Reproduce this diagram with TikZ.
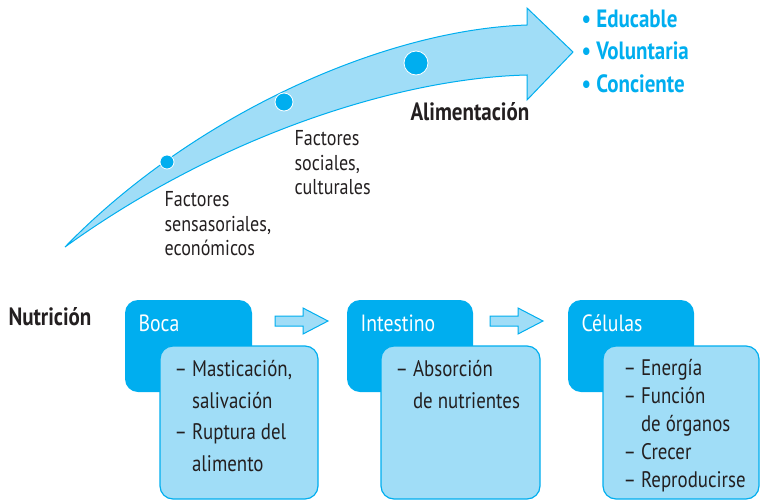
\documentclass[tikz,border=0pt]{standalone}
\usepackage{fontspec}
\setmainfont[FakeStretch=0.84]{PT Sans}
\definecolor{cy}{RGB}{0,174,239}
\definecolor{lb}{RGB}{160,221,247}
\definecolor{tx}{RGB}{35,31,32}
\begin{document}
\begin{tikzpicture}[x=1pt,y=-1pt,
  dark/.style={fill=cy,rounded corners=13pt},
  light/.style={fill=lb,draw=cy,line width=1.2pt,rounded corners=13pt},
  hdr/.style={anchor=base west,text=white,font=\fontsize{23.5}{26}\selectfont},
  body/.style={anchor=north west,text=tx,align=left,font=\fontsize{22.5}{31.5}\selectfont},
  lbl/.style={anchor=north west,text=tx,align=left,font=\fontsize{21.5}{24.5}\selectfont},
  dot/.style={circle,fill=cy,draw=white,line width=0.8pt,inner sep=0pt},
  barrow/.style={fill=lb,draw=cy,line width=1pt}]
\useasboundingbox (0,0) rectangle (760,501);
% big curved arrow
\draw[fill=lb,draw=cy,line width=1pt]
  (65,247) .. controls (190,118) and (380,30) .. (527,25)
  -- (527,8) -- (573,52) -- (527,100) -- (527,75)
  .. controls (400,78) and (220,135) .. (65,247) -- cycle;
\node[dot,minimum size=14pt] (d1) at (167,162) {};
\node[dot,minimum size=18pt] (d2) at (284,102) {};
\node[dot,minimum size=24pt] (d3) at (416,63) {};
\node[lbl] (t1) at (161,188) {Factores\\sensasoriales,\\económicos};
\node[lbl] (t2) at (291,127) {Factores\\sociales,\\culturales};
\node[anchor=base west,text=tx,font=\fontsize{25}{28}\selectfont\bfseries] (al) at (407,120) {Alimentación};
\node[anchor=north west,text=cy,align=left,font=\fontsize{25}{32.5}\selectfont\bfseries] (bl) at (578,6) {• Educable\\• Voluntaria\\• Conciente};
% Nutricion
\node[anchor=base west,text=tx,font=\fontsize{25}{28}\selectfont\bfseries] (nu) at (5,325) {Nutrición};
% Boca
\path[dark] (125,300) rectangle (252,392);
\path[light] (160,346) rectangle (318,499);
\node[hdr] (boca) at (135,331) {Boca};
\node[body] (bb) at (171,357) {– Masticación,\\\phantom{– }salivación\\– Ruptura del\\\phantom{– }alimento};
% Intestino
\path[dark] (347,300) rectangle (473,392);
\path[light] (381,346) rectangle (540,499);
\node[hdr] (int) at (357,331) {Intestino};
\node[body] (ib) at (392,357) {– Absorción\\\phantom{– }de nutrientes};
% Celulas
\path[dark] (568,300) rectangle (694,392);
\path[light] (603,346) rectangle (759,499);
\node[hdr] (cel) at (578,331) {Células};
\node[body,font=\fontsize{22.5}{28}\selectfont] (cb) at (620,356) {– Energía\\– Función\\\phantom{– }de órganos\\– Crecer\\– Reproducirse};
% block arrows
\draw[barrow] (275,316) -- (303,316) -- (303,308) -- (328,321) -- (303,334) -- (303,326) -- (275,326) -- cycle;
\draw[barrow] (490,316) -- (518,316) -- (518,308) -- (543,321) -- (518,334) -- (518,326) -- (490,326) -- cycle;
\end{tikzpicture}
\end{document}
